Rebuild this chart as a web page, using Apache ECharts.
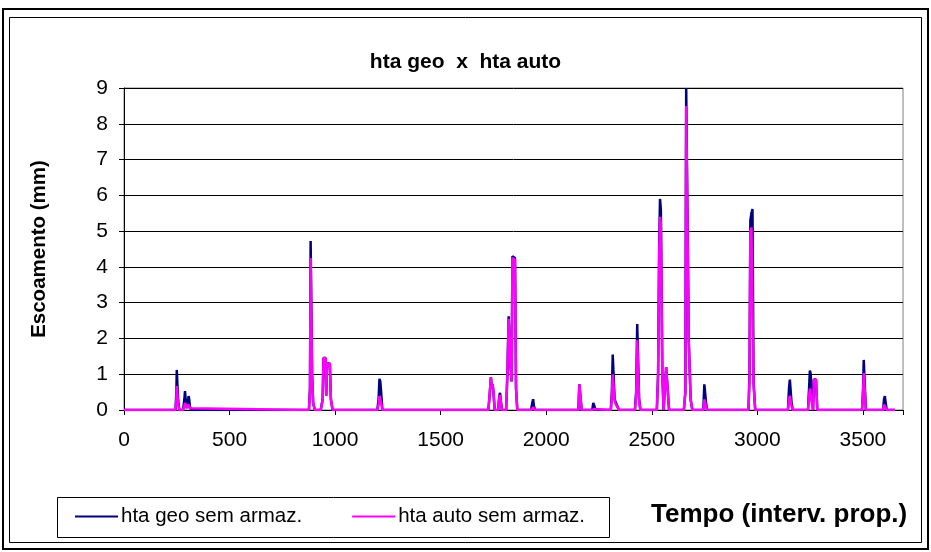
<!DOCTYPE html>
<html>
<head>
<meta charset="utf-8">
<script src="https://cdn.jsdelivr.net/npm/echarts@6/dist/echarts.min.js"></script>
<style>
  html, body { margin: 0; padding: 0; background: #ffffff; }
  #chart { width: 931px; height: 552px; }
</style>
</head>
<body>
<div id="chart"></div>
<script>
// Time steps (interv. prop.) where the hydrograph values are given
const tempo = [
  0,
  244, 248, 250, 253, 256, 262, 280, 286, 289, 292, 298, 303, 306, 309, 312, 318,
  876, 881, 884, 888, 891, 896, 904,
  932, 941, 945, 955, 958, 962, 975, 980, 988,
  1200, 1206, 1210, 1214, 1218, 1224,
  1726, 1733, 1738, 1742, 1746, 1750, 1756, 1772, 1777, 1781, 1786, 1790,
  1810, 1816, 1822, 1826, 1831, 1836, 1840, 1846, 1852, 1857, 1863,
  1928, 1934, 1938, 1942, 1948,
  2152, 2157, 2163, 2168,
  2218, 2223, 2228, 2234,
  2306, 2311, 2315, 2320, 2324, 2330, 2334, 2339, 2345,
  2420, 2426, 2431, 2436, 2440, 2446,
  2524, 2530, 2535, 2539, 2543, 2550, 2556, 2564, 2568, 2576, 2582,
  2652, 2659, 2663, 2670, 2675, 2684, 2692,
  2744, 2749, 2753, 2757, 2762,
  2958, 2963, 2967, 2972, 2977, 2982, 2990,
  3145, 3150, 3154, 3158, 3162, 3168,
  3240, 3245, 3249, 3253, 3258, 3264, 3268, 3278, 3284,
  3496, 3501, 3504, 3508, 3514,
  3596, 3600, 3604, 3608, 3613,
  3652
];

// Runoff (mm), geomorphological unit hydrograph, no storage
const htaGeo = [
  0,
  0, 0.5, 1.12, 1.12, 0.3, 0, 0, 0.3, 0.53, 0.3, 0.1, 0.25, 0.39, 0.3, 0.1, 0,
  0, 0.6, 4.72, 4.72, 1.0, 0.2, 0,
  0, 0.3, 1.45, 1.45, 0.4, 1.3, 1.3, 0.3, 0,
  0, 0.3, 0.87, 0.8, 0.5, 0,
  0, 0.5, 0.92, 0.6, 0.72, 0.5, 0, 0, 0.35, 0.48, 0.2, 0,
  0, 1.0, 2.62, 2.62, 1.2, 0.8, 4.3, 4.3, 4.25, 0.6, 0,
  0, 0.2, 0.3, 0.1, 0,
  0, 0.72, 0.72, 0,
  0, 0.2, 0.15, 0,
  0, 0.5, 1.55, 1.55, 0.3, 0.2, 0.25, 0.2, 0,
  0, 0.5, 2.4, 2.4, 0.3, 0,
  0, 1.0, 4.5, 5.9, 5.6, 1.0, 0, 0, 1.2, 1.2, 0,
  0, 0.5, 9.0, 9.0, 2.0, 0.3, 0,
  0, 0.72, 0.72, 0.2, 0,
  0, 1.0, 5.3, 5.5, 5.62, 0.8, 0,
  0, 0.6, 0.85, 0.8, 0.2, 0,
  0, 0.6, 1.1, 1.0, 0.3, 0, 0.85, 0.85, 0,
  0, 0.6, 1.4, 1.4, 0,
  0, 0.3, 0.39, 0.2, 0,
  0
];

// Runoff (mm), automatic unit hydrograph, no storage
const htaAuto = [
  0,
  0, 0.3, 0.67, 0.67, 0.2, 0, 0, 0.1, 0.2, 0.15, 0.05, 0.1, 0.15, 0.12, 0.05, 0,
  0, 0.5, 4.25, 4.25, 0.9, 0.2, 0,
  0, 0.3, 1.45, 1.45, 0.4, 1.3, 1.3, 0.3, 0,
  0, 0.15, 0.39, 0.39, 0.2, 0,
  0, 0.5, 0.92, 0.6, 0.72, 0.5, 0, 0, 0.3, 0.42, 0.2, 0,
  0, 1.0, 2.55, 2.55, 1.2, 0.8, 4.25, 4.25, 4.2, 0.6, 0,
  0, 0.05, 0.08, 0.03, 0,
  0, 0.72, 0.72, 0,
  0, 0.05, 0.03, 0,
  0, 0.4, 1.0, 1.0, 0.25, 0.15, 0.2, 0.15, 0,
  0, 0.4, 1.95, 1.95, 0.25, 0,
  0, 1.0, 4.3, 5.4, 5.2, 1.0, 0, 0, 1.2, 1.2, 0,
  0, 0.5, 8.5, 8.5, 1.9, 0.3, 0,
  0, 0.3, 0.3, 0.1, 0,
  0, 0.9, 5.0, 5.1, 5.1, 0.7, 0,
  0, 0.3, 0.4, 0.35, 0.1, 0,
  0, 0.4, 0.6, 0.55, 0.2, 0, 0.85, 0.85, 0,
  0, 0.5, 1.03, 1.03, 0,
  0, 0.15, 0.2, 0.1, 0,
  0
];

const seriesNames = ['hta geo sem armaz.', 'hta auto sem armaz.'];
const xTicks = [0, 500, 1000, 1500, 2000, 2500, 3000, 3500];
const yTicks = [0, 1, 2, 3, 4, 5, 6, 7, 8, 9];

const pairs = (ys) => tempo.map((t, i) => [t, ys[i]]);

const FONT = '"Liberation Sans", Arial, sans-serif';
const chart = echarts.init(document.getElementById('chart'), null, { renderer: 'canvas' });

chart.setOption({
  animation: false,
  backgroundColor: '#ffffff',
  title: {
    text: 'hta geo  x  hta auto',
    left: 'center',
    top: 47,
    textStyle: { fontFamily: FONT, fontSize: 21, fontWeight: 'bold', color: '#000000' }
  },
  grid: {
    left: 124, right: 28, top: 88, bottom: 142,
    show: true, borderColor: '#808080', borderWidth: 1, backgroundColor: '#ffffff'
  },
  legend: {
    left: 65, top: 506,
    padding: [0, 0, 0, 10],
    itemGap: 50,
    itemWidth: 43, itemHeight: 2,
    icon: 'rect',
    textStyle: { fontFamily: FONT, fontSize: 20.5, color: '#000000', padding: [0, 0, 0, -2] },
    data: seriesNames
  },
  xAxis: {
    type: 'value',
    min: 0, max: 3690, interval: 500,
    axisLine: { show: true, lineStyle: { color: '#000000', width: 1 } },
    axisTick: { show: true, length: 5, inside: false, lineStyle: { color: '#000000' } },
    axisLabel: {
      fontFamily: FONT, fontSize: 21, color: '#000000', margin: 20,
      formatter: (v) => xTicks.includes(v) ? String(v) : ''
    },
    splitLine: { show: false }
  },
  yAxis: {
    type: 'value',
    min: 0, max: 9, interval: 1,
    name: 'Escoamento (mm)',
    nameLocation: 'middle',
    nameRotate: 90,
    nameGap: 74,
    nameTextStyle: { fontFamily: FONT, fontSize: 20.5, fontWeight: 'bold', color: '#000000' },
    axisLine: { show: true, lineStyle: { color: '#000000', width: 1 } },
    axisTick: { show: true, length: 5, inside: false, lineStyle: { color: '#000000' } },
    axisLabel: {
      fontFamily: FONT, fontSize: 21, color: '#000000', margin: 16,
      formatter: (v) => yTicks.includes(v) ? String(v) : ''
    },
    splitLine: { show: true, lineStyle: { color: '#000000', width: 1 } }
  },
  series: [
    {
      name: seriesNames[0], type: 'line', data: pairs(htaGeo),
      symbol: 'none', z: 2,
      lineStyle: { color: '#000080', width: 2.5 }, itemStyle: { color: '#000080' }
    },
    {
      name: seriesNames[1], type: 'line', data: pairs(htaAuto),
      symbol: 'none', z: 3,
      lineStyle: { color: '#ff00ff', width: 2.5 }, itemStyle: { color: '#ff00ff' }
    }
  ],
  graphic: [
    { type: 'rect', shape: { x: 3, y: 9, width: 925, height: 540 },
      style: { fill: null, stroke: '#000000', lineWidth: 2 }, z: 100 },
    { type: 'rect', shape: { x: 9.5, y: 17.5, width: 912, height: 525 },
      style: { fill: null, stroke: '#000000', lineWidth: 1 }, z: 100 },
    { type: 'rect', shape: { x: 57.5, y: 497.5, width: 552, height: 40 },
      style: { fill: null, stroke: '#000000', lineWidth: 1 }, z: 100 },
    { type: 'text', left: 651, top: 502, z: 100,
      style: { text: 'Tempo (interv. prop.)', font: 'bold 26px "Liberation Sans", Arial, sans-serif', fill: '#000000' } }
  ]
});
</script>
</body>
</html>
